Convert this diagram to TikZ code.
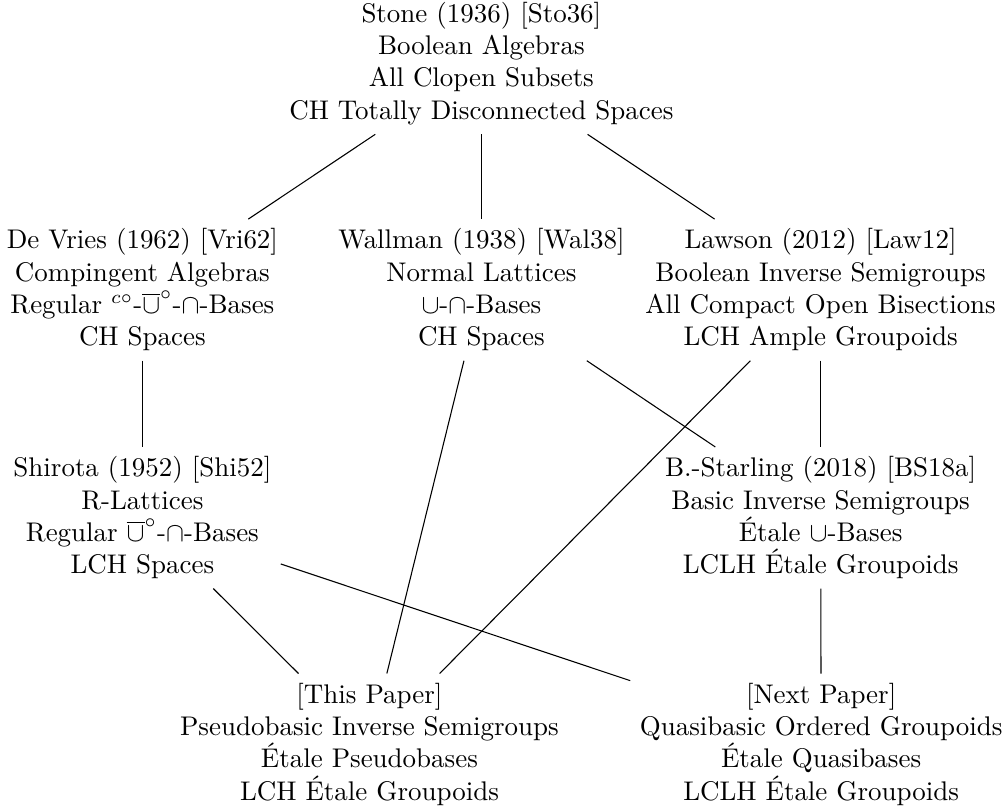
\documentclass[tikz,border=0pt]{standalone}
\usepackage{amssymb}
\usepackage{amsmath}
\usepackage{tikz}
\usetikzlibrary{positioning}

\begin{document}
\begin{tikzpicture}[x=1pt,y=1pt,every node/.style={align=center}]
    \useasboundingbox (0,0) rectangle (372.3,300);
    %%%%% THE NODES
    \node (STONE) at (178.5,276.5) {Stone (1936) [Sto36]\\ Boolean Algebras\\ All Clopen Subsets\\ CH Totally Disconnected Spaces};
    \node (DEVRIES) at (52.8,192.5) {De Vries (1962) [Vri62]\\ Compingent Algebras\\ Regular ${}^{c\circ}$-$\overline{\cup}^{\circ}$-$\cap$-Bases\\ CH Spaces};
    \node (WALLMAN) at (178.5,192.5) {Wallman (1938) [Wal38]\\ Normal Lattices\\ $\cup$-$\cap$-Bases\\ CH Spaces};
    \node (LAWSON) at (304.3,192.5) {Lawson (2012) [Law12]\\ Boolean Inverse Semigroups\\ All Compact Open Bisections\\ LCH Ample Groupoids};
    \node (SHIROTA) at (52.8,108) {Shirota (1952) [Shi52]\\ R-Lattices\\ Regular $\overline{\cup}^{\circ}$-$\cap$-Bases\\ LCH Spaces};
    \node (STARLING) at (304.3,108) {B.-Starling (2018) [BS18a]\\ Basic Inverse Semigroups\\ \'Etale $\cup$-Bases\\ LCLH \'Etale Groupoids};
    \node (THIS) at (137,24) {[This Paper]\\ Pseudobasic Inverse Semigroups\\ \'Etale Pseudobases\\ LCH \'Etale Groupoids};
    \node (NEXT) at (304.5,24) {[Next Paper]\\ Quasibasic Ordered Groupoids\\ \'Etale Quasibases\\ LCLH \'Etale Groupoids};
    %%%%% THE LINKS
    \draw (STONE) -- (DEVRIES);
    \draw (STONE) -- (WALLMAN);
    \draw (STONE) -- (LAWSON);
    \draw (DEVRIES) -- (SHIROTA);
    \draw (WALLMAN) -- (THIS);
    \draw (WALLMAN) -- (STARLING);
    \draw (LAWSON) -- (THIS);
    \draw (LAWSON) -- (STARLING);
    \draw (SHIROTA) -- (THIS);
    \draw (SHIROTA) -- (NEXT);
    \draw (STARLING) -- (NEXT);
\end{tikzpicture}
\end{document}
